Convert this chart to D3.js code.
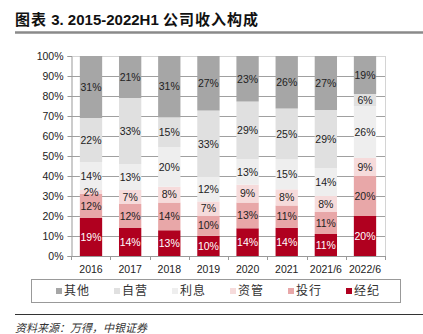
<!DOCTYPE html>
<html><head><meta charset="utf-8">
<script src="https://cdn.jsdelivr.net/npm/d3@7"></script>
<style>
html,body{margin:0;padding:0;background:#fff;}
svg{display:block;}
</style></head>
<body>
<svg id="c" width="423" height="334"></svg>
<script>
const categories = ["2016","2017","2018","2019","2020","2021","2021/6","2022/6"];
const seriesNames = ["经纪","投行","资管","利息","自营","其他"];
const brokerage = [19,14,13,10,14,14,11,20];
const ib        = [12,12,14,10,13,11,11,20];
const am        = [2,7,8,7,9,8,8,9];
const interest  = [14,13,20,12,13,15,14,26];
const prop      = [22,33,15,33,29,25,29,6];
const other     = [31,21,31,27,23,26,27,19];
const yTicks = [0,0.1,0.2,0.3,0.4,0.5,0.6,0.7,0.8,0.9,1];
const colors = ["#b0001f","#e8a7a8","#f6dbdb","#eeeeee","#e0e0e0","#a6a6a6"];
const legendOrder = ["其他","自营","利息","资管","投行","经纪"];

const seriesArrays = [brokerage, ib, am, interest, prop, other];
const rows = categories.map((c,i)=>{
  const r = {cat:c};
  seriesNames.forEach((s,j)=>r[s]=seriesArrays[j][i]);
  return r;
});
const stack = d3.stack().keys(seriesNames).offset(d3.stackOffsetExpand)(rows);

const svg = d3.select("#c");
const L=71, R=385, T=56, B=256;
const x = d3.scaleBand().domain(categories).range([L,R]).paddingInner(0.43).paddingOuter(0.226);
const y = d3.scaleLinear().domain([0,1]).range([B,T]);
const color = d3.scaleOrdinal().domain(seriesNames).range(colors);
const num = "'Liberation Sans', Arial, sans-serif";
const cjk = "'Noto Sans CJK SC', sans-serif";

// title
const title = svg.append("text").attr("x",15).attr("y",25)
  .attr("font-family","'Liberation Sans', 'Noto Sans CJK SC', sans-serif")
  .attr("font-size",15).attr("font-weight","bold").attr("fill","#111");
title.append("tspan").attr("letter-spacing",1).text("图表");
title.append("tspan").text(" 3. 2015-2022H1 ");
title.append("tspan").attr("letter-spacing",1).text("公司收入构成");
svg.append("line").attr("x1",15).attr("x2",423).attr("y1",32.5).attr("y2",32.5)
  .attr("stroke","#8a8a8a").attr("stroke-width",2.5);

// gridlines
svg.append("g").selectAll("line").data(yTicks.slice(1,-1)).join("line")
  .attr("x1",L).attr("x2",R).attr("y1",d=>Math.round(y(d))+0.5).attr("y2",d=>Math.round(y(d))+0.5)
  .attr("stroke","#a0a0a0").attr("stroke-width",1);
// frame top/right
svg.append("line").attr("x1",L).attr("x2",R).attr("y1",T+0.5).attr("y2",T+0.5).attr("stroke","#d4d4d4");
svg.append("line").attr("x1",R+0.5).attr("x2",R+0.5).attr("y1",T).attr("y2",B).attr("stroke","#d4d4d4");

// bars
const g = svg.append("g");
stack.forEach(s=>{
  g.append("g").attr("fill",color(s.key)).selectAll("rect").data(s).join("rect")
    .attr("x",d=>x(d.data.cat)).attr("width",x.bandwidth())
    .attr("y",d=>y(d[1])).attr("height",d=>y(d[0])-y(d[1]));
});
// labels
stack.forEach(s=>{
  g.append("g").selectAll("text").data(s).join("text")
    .attr("x",d=>x(d.data.cat)+x.bandwidth()/2)
    .attr("y",d=>(y(d[0])+y(d[1]))/2)
    .attr("dy","0.36em").attr("text-anchor","middle")
    .attr("font-family",num).attr("font-size",10.5)
    .attr("fill",s.key==="经纪"?"#fff":"#222")
    .text(d=>d.data[s.key]+"%");
});

// y axis
const ya = d3.axisLeft(y).tickValues(yTicks).tickFormat(d3.format(".0%")).tickSize(4).tickPadding(4);
const yg = svg.append("g").attr("transform",`translate(${L+0.5},0)`).call(ya);
yg.select(".domain").attr("stroke","#999");
yg.selectAll(".tick line").attr("stroke","#999");
yg.selectAll("text").attr("font-family",num).attr("font-size",10.5).attr("fill","#222");

// x axis
svg.append("line").attr("x1",L).attr("x2",R+1).attr("y1",B+0.5).attr("y2",B+0.5).attr("stroke","#999");
const bounds = d3.range(categories.length+1).map(i=>L + (R-L)*i/categories.length);
svg.append("g").selectAll("line").data(bounds).join("line")
  .attr("x1",d=>Math.round(d)+0.5).attr("x2",d=>Math.round(d)+0.5).attr("y1",B).attr("y2",B+4)
  .attr("stroke","#999");
const xa = d3.axisBottom(x).tickSize(0).tickPadding(0);
const xg = svg.append("g").attr("transform",`translate(0,${B})`).call(xa);
xg.select(".domain").remove();
xg.selectAll("text").attr("font-family",num).attr("font-size",10.5).attr("fill","#222")
  .attr("dy",null).attr("y",16.5);

// legend
svg.append("rect").attr("x",31.5).attr("y",279.5).attr("width",369).attr("height",23)
  .attr("fill","none").attr("stroke","#999");
const lg = svg.append("g").selectAll("g").data(legendOrder).join("g")
  .attr("transform",(d,i)=>`translate(${56+i*58},291)`);
lg.append("rect").attr("x",0).attr("y",-3).attr("width",6).attr("height",6).attr("fill",d=>color(d));
lg.append("text").attr("x",8).attr("dy","0.36em").attr("font-family",cjk).attr("font-size",12)
  .attr("letter-spacing",1).attr("fill","#333").text(d=>d);

// source
svg.append("line").attr("x1",15).attr("x2",423).attr("y1",314.5).attr("y2",314.5)
  .attr("stroke","#333").attr("stroke-width",1.2);
svg.append("text").attr("x",15).attr("y",332).attr("font-family",cjk).attr("font-size",11)
  .attr("font-style","italic").attr("fill","#333").text("资料来源：万得，中银证券");
</script>
</body></html>
